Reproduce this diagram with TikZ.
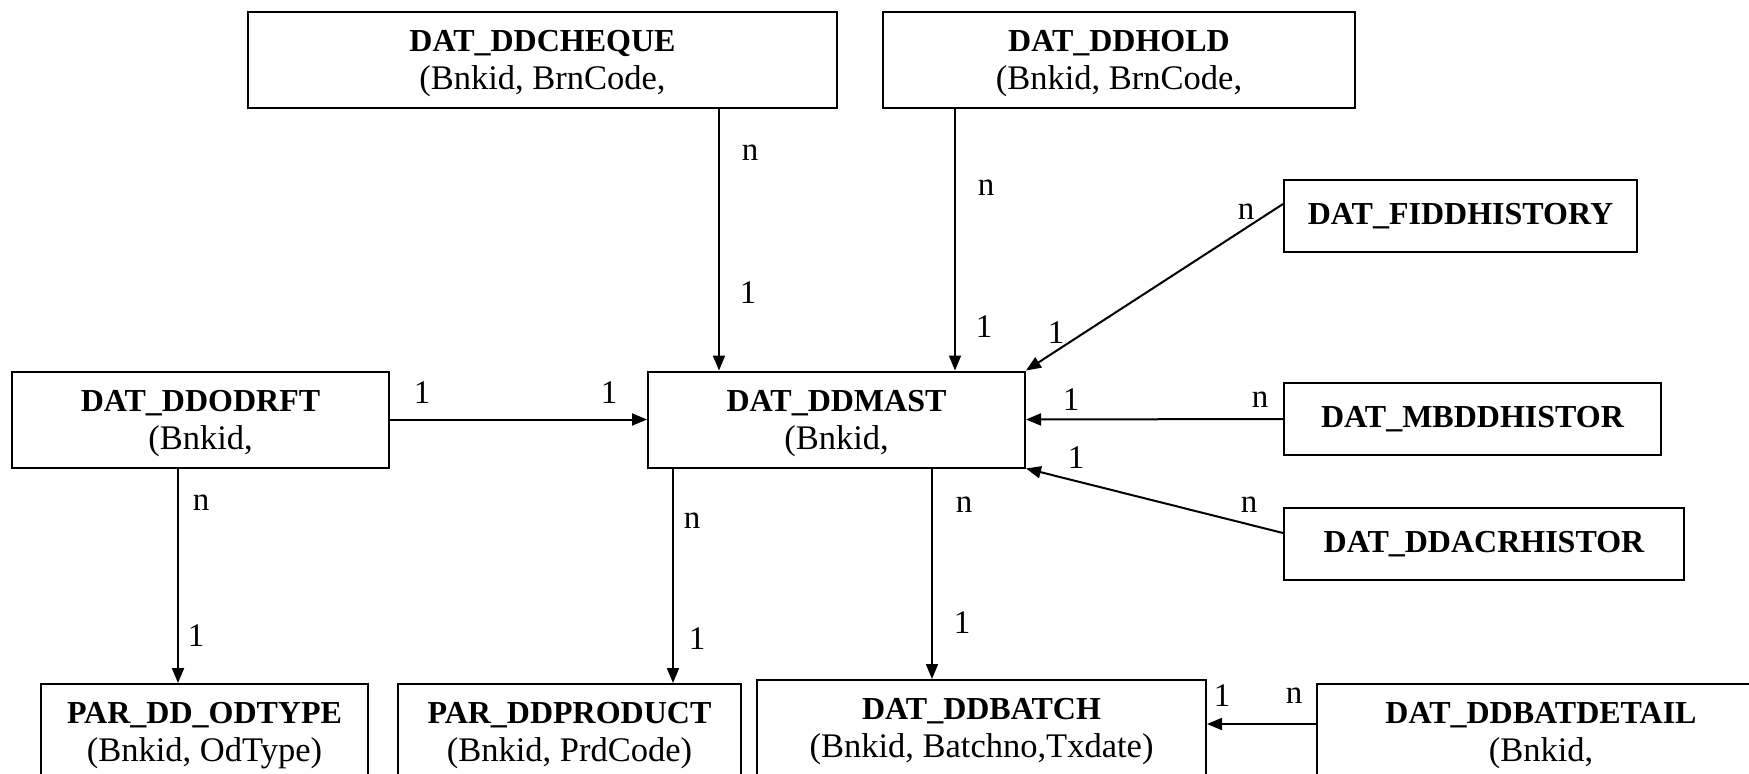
\documentclass[tikz,border=0pt]{standalone}
\usepackage{fontspec}
\setmainfont{Liberation Serif}
\usetikzlibrary{arrows.meta,positioning,calc}
\tikzset{>=Stealth}
\newcommand{\tblhead}[1]{{\fontsize{32}{38}\selectfont\bfseries\rule{0pt}{29pt}#1}}
\newcommand{\histhead}[1]{{\fontsize{32}{38}\selectfont\bfseries #1}}

\begin{document}
\begin{tikzpicture}[x=1pt, y=-1pt, line width=2pt, >={Triangle[length=15pt,width=12pt]}]
  % Estilos
  \tikzset{
    tbl/.style={draw,rectangle,align=center,inner sep=0pt,minimum height=96pt,
      font=\fontsize{34.5}{38}\selectfont},
    hist/.style={tbl,minimum height=72pt},
    lab/.style={font=\fontsize{33}{33}\selectfont,inner sep=0pt}
  }
  \useasboundingbox (0,0) rectangle (1749,774);
  \clip (0,0) rectangle (1749,774);

  %================= TABLAS =================
  \node[tbl,minimum width=589pt] (cheque) at (542.5,60) {\tblhead{DAT\_DDCHEQUE}\\(Bnkid, BrnCode,};
  \node[tbl,minimum width=472pt] (hold) at (1119,60) {\tblhead{DAT\_DDHOLD}\\(Bnkid, BrnCode,};

  \node[hist,minimum width=353pt] (fidd) at (1460.5,216) {\histhead{DAT\_FIDDHISTORY}};
  \node[hist,minimum width=377pt] (mbdd) at (1472.5,419) {\histhead{DAT\_MBDDHISTOR}};
  \node[hist,minimum width=400pt] (acr) at (1484,544) {\histhead{DAT\_DDACRHISTOR}};

  \node[tbl,minimum width=377pt] (odrft) at (200.5,419.5) {\tblhead{DAT\_DDODRFT}\\(Bnkid,};
  \node[tbl,minimum width=377pt] (mast) at (836.5,419.5) {\tblhead{DAT\_DDMAST}\\(Bnkid,};

  \node[tbl,minimum width=327pt] (odtype) at (204.5,732) {\tblhead{PAR\_DD\_ODTYPE}\\(Bnkid, OdType)};
  \node[tbl,minimum width=343pt] (prod) at (569.5,732) {\tblhead{PAR\_DDPRODUCT}\\(Bnkid, PrdCode)};
  \node[tbl,minimum width=449pt] (batch) at (981.5,728) {\tblhead{DAT\_DDBATCH}\\(Bnkid, Batchno,Txdate)};
  \node[tbl,minimum width=448pt] (batdet) at (1541,732) {\tblhead{DAT\_DDBATDETAIL}\\(Bnkid,};

  %================= RELACIONES =================
  \draw[->] ([xshift=-117.5pt]mast.north |- cheque.south) -- ([xshift=-117.5pt]mast.north);
  \draw[->] ([xshift=118.5pt]mast.north |- hold.south) -- ([xshift=118.5pt]mast.north);
  \draw[->] ([yshift=12pt]fidd.west) -- (mast.north east);
  \draw[->] (mbdd.west) -- (mast.east);
  \draw[->] ([yshift=11pt]acr.west) -- (mast.south east);
  \draw[->] (odrft.east) -- (mast.west);
  \draw[->] ([xshift=-22.5pt]odrft.south) -- ([xshift=-22.5pt]odrft.south |- odtype.north);
  \draw[->] ([xshift=-163.5pt]mast.south) -- ([xshift=-163.5pt]mast.south |- prod.north);
  \draw[->] ([xshift=95.5pt]mast.south) -- ([xshift=95.5pt]mast.south |- batch.north);
  \draw[->] ([yshift=8pt]batdet.west) -- ([yshift=8pt]batdet.west -| batch.east);

  % Cardinalidades
  \node[lab] (chq-n) at (750,153) {n};
  \node[lab] (chq-1) at (748,293) {1};
  \node[lab] (hld-n) at (986,188) {n};
  \node[lab] (hld-1) at (984,327) {1};
  \node[lab] (fid-n) at (1246,212) {n};
  \node[lab] (fid-1) at (1056,333) {1};
  \node[lab] (mbd-1) at (1071,400) {1};
  \node[lab] (mbd-n) at (1260,400) {n};
  \node[lab] (acr-1) at (1076,458) {1};
  \node[lab] (acr-n) at (1249,505) {n};
  \node[lab] (odr-1) at (422,393) {1};
  \node[lab] (mst-1) at (609,393) {1};
  \node[lab] (odt-n) at (201,503) {n};
  \node[lab] (odt-1) at (196,636) {1};
  \node[lab] (prd-n) at (692,521) {n};
  \node[lab] (prd-1) at (697,639) {1};
  \node[lab] (bat-n) at (964,505) {n};
  \node[lab] (bat-1) at (962,623) {1};
  \node[lab] (bdt-1) at (1222,696) {1};
  \node[lab] (bdt-n) at (1294,696) {n};
\end{tikzpicture}
\end{document}
